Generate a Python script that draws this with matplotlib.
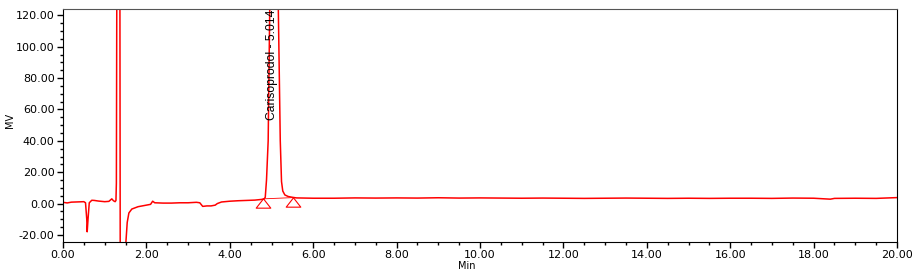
import matplotlib.pyplot as plt
from matplotlib.path import Path
from matplotlib.ticker import MultipleLocator, FormatStrFormatter

plt.rcParams['font.family'] = ['DejaVu Sans']

# chromatogram trace (Min, MV)
time = [0.00, 0.10, 0.20, 0.30, 0.40, 0.50, 0.54, 0.57, 0.58, 0.60, 0.63, 0.69,
        0.75, 0.85, 1.00, 1.10, 1.17, 1.21, 1.25, 1.27, 1.28, 1.29, 1.365, 1.372,
        1.50, 1.51, 1.54, 1.58, 1.65, 1.80, 1.90, 2.00, 2.10, 2.15, 2.20, 2.40,
        2.60, 2.80, 3.00, 3.20, 3.28, 3.35, 3.45, 3.55, 3.65, 3.70, 3.80, 4.00,
        4.20, 4.40, 4.60, 4.75, 4.82, 4.85, 4.88, 4.92, 4.96, 5.16, 5.21, 5.24,
        5.27, 5.32, 5.40, 5.50, 5.60, 6.0, 6.5, 7.0, 7.5, 8.0, 8.5, 9.0, 9.5,
        10.0, 10.5, 11.0, 11.5, 12.0, 12.5, 13.0, 13.5, 14.0, 14.5, 15.0, 15.5,
        16.0, 16.5, 17.0, 17.5, 18.0, 18.4, 18.5, 19.0, 19.5, 20.0]
mv = [0.8, 0.4, 0.9, 1.0, 1.1, 1.2, 0.5, -10, -18, -10, 0.5, 2.1,
      2.0, 1.6, 1.2, 1.4, 3.0, 1.8, 1.2, 2.0, 13, 130, 130, -30,
      -30, -24, -12, -6, -3.5, -2, -1.5, -1, -0.5, 1.5, 0.5, 0.3,
      0.3, 0.5, 0.5, 0.8, 0.5, -1.8, -1.5, -1.5, -1.0, 0.0, 1.0, 1.5,
      1.8, 2.0, 2.2, 2.6, 2.9, 4, 15, 40, 130, 130, 40, 14,
      8, 5.5, 4.5, 4.0, 3.6, 3.4, 3.4, 3.6, 3.5, 3.6, 3.5, 3.7, 3.5,
      3.6, 3.5, 3.4, 3.5, 3.4, 3.3, 3.4, 3.5, 3.4, 3.3, 3.4, 3.3,
      3.4, 3.4, 3.3, 3.5, 3.4, 2.8, 3.3, 3.4, 3.3, 3.8]

# integration baseline of the peak
base_t = [4.80, 5.52]
base_mv = [3.0, 3.8]
peak_name = "Carisoprodol - 5.014"
peak_rt = 5.014

fig = plt.figure(figsize=(9.21, 2.74), dpi=100)
ax = fig.add_axes([0.0684, 0.1168, 0.9056, 0.8502])

ax.plot(time, mv, color="#ff0000", lw=1.1)
ax.plot(base_t, base_mv, color="#ff0000", lw=0.6)

# flat hollow triangle, apex at the baseline
tri = Path([(0, 0.64), (-1, -0.64), (1, -0.64), (0, 0.64)],
           [Path.MOVETO, Path.LINETO, Path.LINETO, Path.CLOSEPOLY])
ax.plot(base_t, [b - 2.9 for b in base_mv], linestyle="none", marker=tri,
        markersize=10.5, markerfacecolor="none", markeredgecolor="#ff0000", mew=0.8)

ax.text(peak_rt, 123.5, peak_name, rotation=90, ha="center", va="top",
        fontsize=8.7, family=["Liberation Sans", "DejaVu Sans"])

ax.set_xlim(0, 20)
ax.set_ylim(-24.5, 124)
ax.xaxis.set_major_locator(MultipleLocator(2))
ax.xaxis.set_minor_locator(MultipleLocator(0.5))
ax.yaxis.set_major_locator(MultipleLocator(20))
ax.yaxis.set_minor_locator(MultipleLocator(5))
ax.xaxis.set_major_formatter(FormatStrFormatter("%.2f"))
ax.yaxis.set_major_formatter(FormatStrFormatter("%.2f"))
ax.tick_params(which="both", direction="out", labelsize=8, width=1, colors="black")
ax.tick_params(which="major", length=4, pad=2)
ax.tick_params(which="minor", length=2.5)
ax.spines["top"].set_color("#555555")

fig.text(0.507, 0.03, "Min", fontsize=7, ha="center", va="center")
fig.text(0.011, 0.56, "MV", fontsize=7, ha="center", va="center", rotation=90)

fig.savefig("out.png", dpi=100)
